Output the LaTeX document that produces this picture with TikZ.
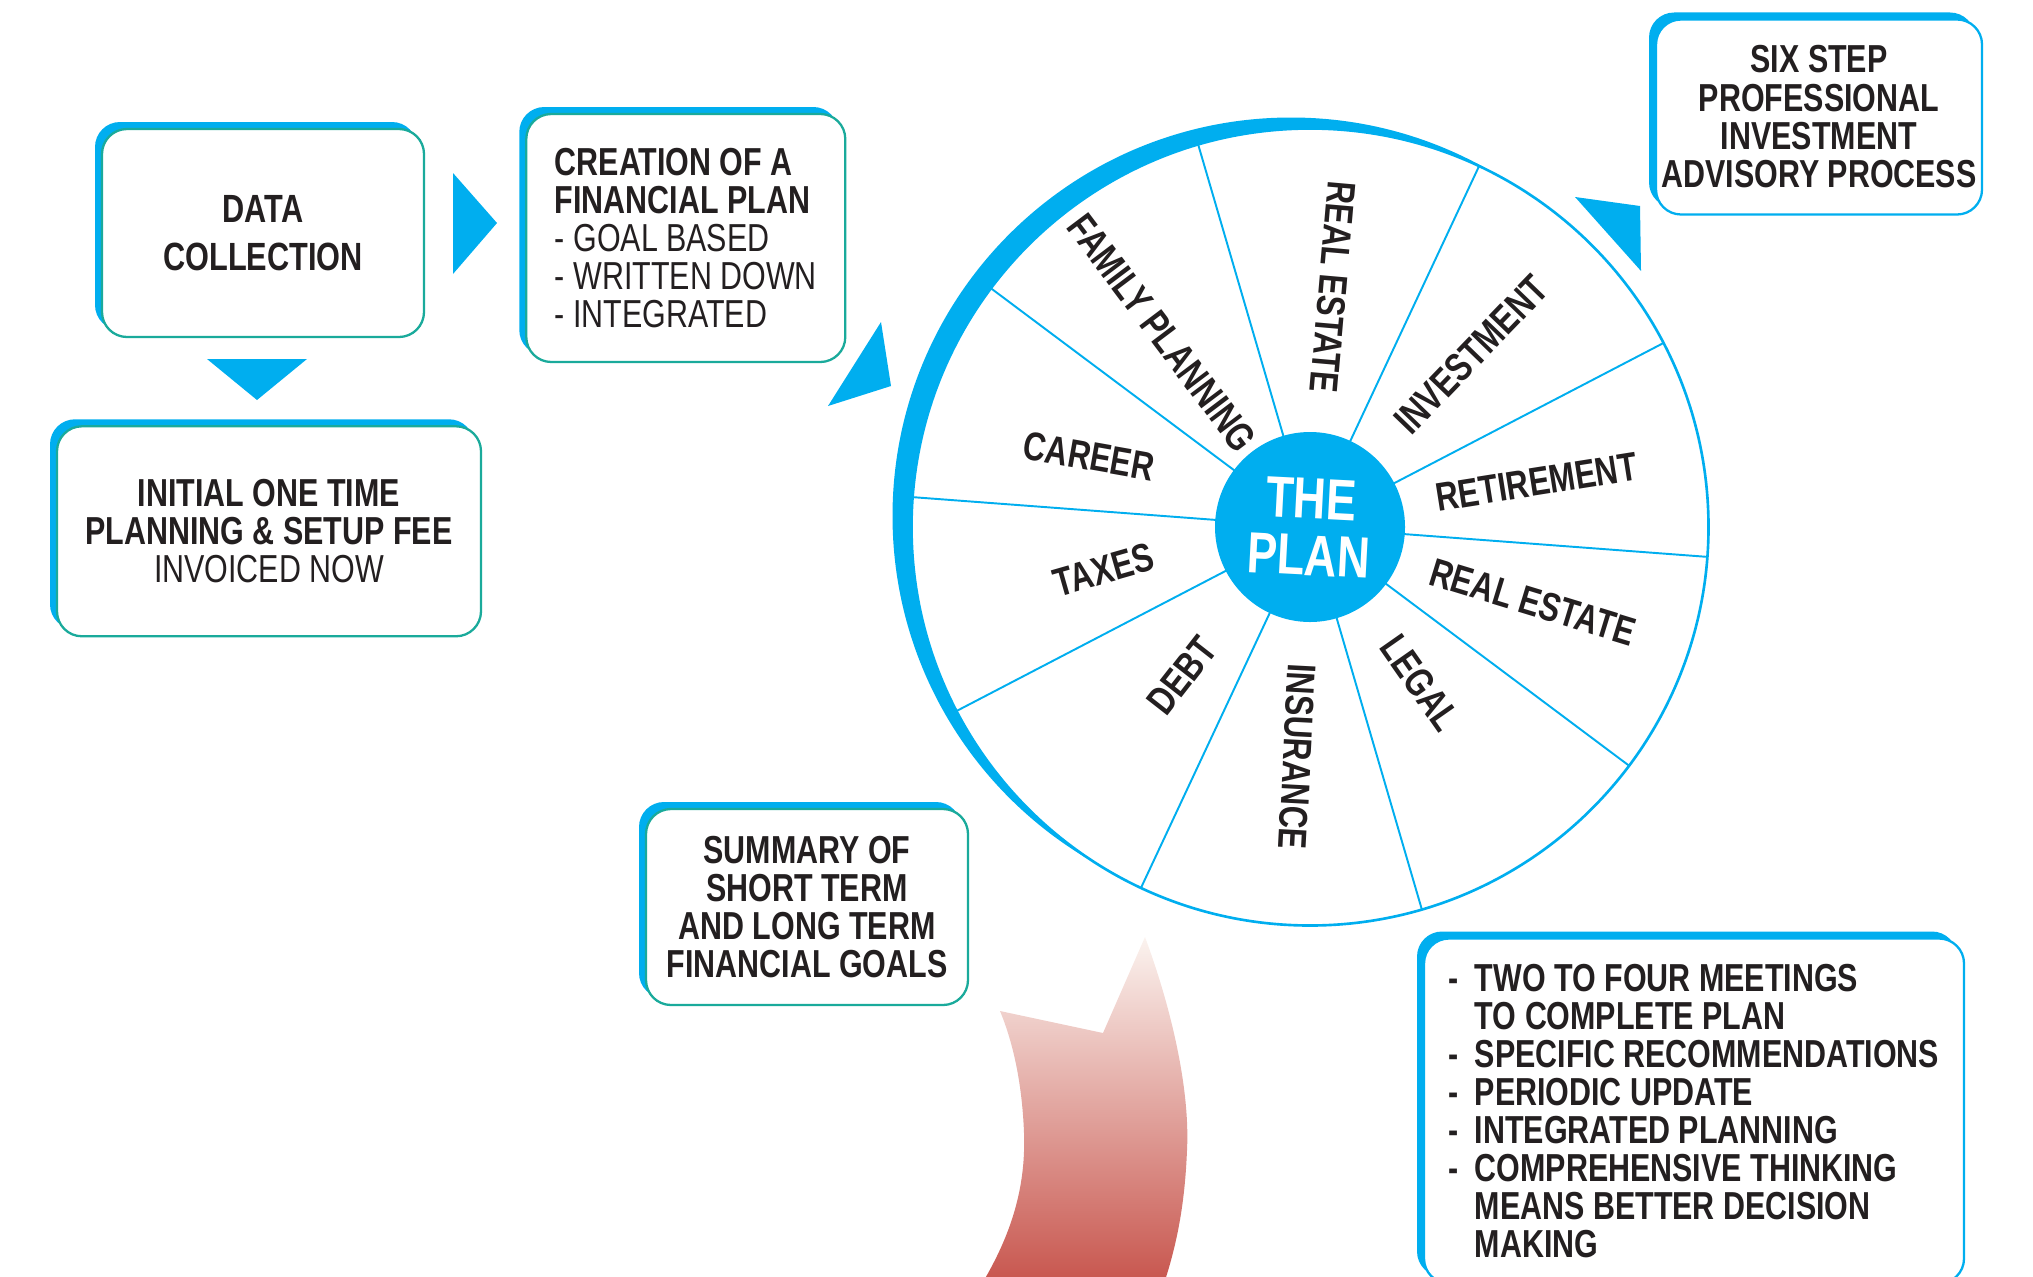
\documentclass[tikz,border=0pt]{standalone}
\usepackage{fontspec}
\newfontfamily\plannerfont{Liberation Sans}[FakeStretch=0.78]
\usetikzlibrary{shapes.geometric,positioning,shadows}

\definecolor{planblue}{RGB}{0,174,239}
\definecolor{boxteal}{RGB}{26,170,155}
\definecolor{planink}{RGB}{35,31,32}
\definecolor{arrowtop}{RGB}{251,243,239}
\definecolor{arrowred}{RGB}{198,80,72}

\newcommand{\planitem}[1]{\makebox[0.26cm][l]{-}#1}
\newcommand{\planindent}{\hspace*{0.26cm}}

\begin{document}
\begin{tikzpicture}[
    planbox/.style={draw=boxteal, line width=0.65pt, fill=white, rounded corners=0.25cm,
      general shadow={fill=planblue, shadow xshift=-0.07cm, shadow yshift=0.07cm},
      inner sep=0pt, text=planink, font=\plannerfont\fontsize{11.1}{10.8}\selectfont},
    bluebox/.style={planbox, draw=planblue},
    pointer/.style={fill=planblue},
    spoke label/.style={font=\plannerfont\bfseries\fontsize{11.4}{13}\selectfont,
      text=planink, inner sep=0pt},
    wheel line/.style={draw=planblue, line width=0.55pt}
]
  \useasboundingbox (0,0) rectangle (20.33,-12.76);
  \clip (0,0) rectangle (20.33,-12.76);

  % the wheel
  \coordinate (wheel) at (13.10,-5.27);
  \fill[planblue] (12.91,-5.16) circle (3.985);
  \filldraw[fill=white, draw=planblue, line width=0.75pt] (wheel) circle (3.985);
  \foreach \ang in {106.3,64.9,27.5,-4.3,-36.8}
    \draw[wheel line] (wheel) ++(\ang:3.985) -- ++(\ang+180:7.97);
  \node[circle, fill=planblue, minimum size=1.90cm, inner sep=0pt, text=white, align=center,
    font=\plannerfont\bfseries\fontsize{16.5}{16.2}\selectfont, rotate=-3] (plan) at (wheel) {THE\\PLAN};
  \foreach \ang/\dist/\rot/\topic [count=\i] in {127.3/2.44/-53/FAMILY PLANNING,
      84.5/2.41/-95/REAL ESTATE, 46.9/2.36/46/INVESTMENT, 11.2/2.31/9/RETIREMENT,
      -18.6/2.35/-17/REAL ESTATE, -54.8/1.91/-55/LEGAL, -93.2/2.30/-93/INSURANCE,
      -130.7/1.96/52/DEBT, 191.7/2.11/16/TAXES, 162.2/2.32/-10/CAREER}
    \path (wheel) ++(\ang:\dist) node[spoke label, rotate=\rot] (topic-\i) {\topic};

  % the steps
  \node[planbox, minimum width=3.22cm, minimum height=2.08cm, align=center,
    font=\plannerfont\bfseries\fontsize{11.2}{13.7}\selectfont] (data) at (2.63,-2.33) {DATA\\COLLECTION};
  \node[planbox, minimum width=3.19cm, minimum height=2.48cm, align=left,
    right=1cm of data, yshift=-0.05cm] (creation)
    {\textbf{CREATION OF A}\\\textbf{FINANCIAL PLAN}\\- GOAL BASED\\- WRITTEN DOWN\\- INTEGRATED};
  \node[planbox, minimum width=4.24cm, minimum height=2.10cm, align=center,
    below=0.87cm of data, xshift=0.06cm] (initial)
    {\textbf{INITIAL ONE TIME}\\\textbf{PLANNING \& SETUP FEE}\\INVOICED NOW};
  \node[planbox, minimum width=3.22cm, minimum height=1.96cm, align=center,
    font=\plannerfont\bfseries\fontsize{11.1}{10.8}\selectfont] (summary) at (8.07,-9.07)
    {SUMMARY OF\\SHORT TERM\\AND LONG TERM\\FINANCIAL GOALS};
  \node[bluebox, minimum width=3.26cm, minimum height=1.95cm, align=center,
    font=\plannerfont\bfseries\fontsize{11.1}{10.9}\selectfont] (sixstep) at (18.19,-1.17)
    {SIX STEP\\PROFESSIONAL\\INVESTMENT\\ADVISORY PROCESS};
  \node[bluebox, minimum width=5.40cm, minimum height=3.45cm, align=left,
    font=\plannerfont\bfseries\fontsize{11.1}{10.8}\selectfont] (meetings) at (16.94,-11.11)
    {\planitem{TWO TO FOUR MEETINGS}\\\planindent TO COMPLETE PLAN\\
     \planitem{SPECIFIC RECOMMENDATIONS}\\\planitem{PERIODIC UPDATE}\\
     \planitem{INTEGRATED PLANNING}\\\planitem{COMPREHENSIVE THINKING}\\
     \planindent MEANS BETTER DECISION\\\planindent MAKING};

  % pointers between the steps
  \fill[pointer] (2.07,-3.59) -- (3.07,-3.59) -- (2.57,-4.00) -- cycle;
  \fill[pointer] (4.53,-1.73) -- (4.53,-2.74) -- (4.97,-2.23) -- cycle;
  \fill[pointer] (8.28,-4.06) -- (8.81,-3.22) -- (8.91,-3.86) -- cycle;
  \fill[pointer] (15.75,-1.97) -- (16.40,-2.06) -- (16.41,-2.71) -- cycle;

  % rising arrow
  \shade[top color=arrowtop, bottom color=arrowred] (11.45,-9.37)
    .. controls (11.72,-10.10) and (11.90,-10.90) .. (11.87,-11.50)
    .. controls (11.85,-12.00) and (11.78,-12.45) .. (11.60,-12.95)
    -- (9.75,-12.95)
    .. controls (10.10,-12.40) and (10.26,-11.90) .. (10.24,-11.33)
    .. controls (10.22,-10.80) and (10.12,-10.40) .. (10.00,-10.11)
    -- (11.03,-10.33) -- cycle;
\end{tikzpicture}
\end{document}
